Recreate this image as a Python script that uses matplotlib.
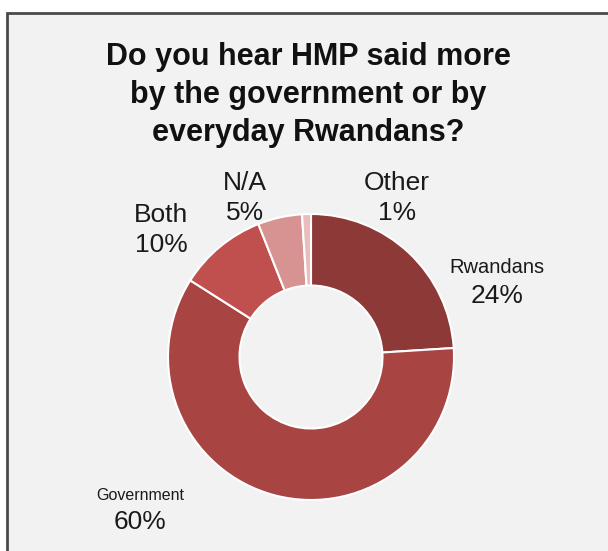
import matplotlib.pyplot as plt
from matplotlib.patches import Rectangle

# survey answers, clockwise from 12 o'clock
labels = ['Rwandans', 'Government', 'Both', 'N/A', 'Other']
shares = [24, 60, 10, 5, 1]
colors = ['#8C3937', '#A84543', '#C0504D', '#D69391', '#E8BDBC']

W, H = 608, 551
fig = plt.figure(figsize=(W / 100, H / 100), dpi=100)
fig.patch.set_facecolor('white')
ax = fig.add_axes([0, 0, 1, 1])
ax.set_xlim(0, W)
ax.set_ylim(0, H)
ax.axis('off')

# chart area frame (runs off the right and bottom edges)
ax.add_patch(Rectangle((7, -20), W + 20, H - 13 + 20, facecolor='#F2F2F2',
                       edgecolor='#4A4A4A', linewidth=2, zorder=0))

cx, cy, r = 311, H - 357, 143
ax.pie(shares, colors=colors, startangle=90, counterclock=False,
       center=(cx, cy), radius=r,
       wedgeprops=dict(width=r * 0.5, edgecolor='white', linewidth=1.5),
       frame=False)
ax.set_xlim(0, W)
ax.set_ylim(0, H)
ax.set_aspect('auto')

fig.text(308 / W, 1 - 95 / H,
         'Do you hear HMP said more\nby the government or by\neveryday Rwandans?',
         ha='center', va='center', fontsize=22, fontweight='bold',
         family='Liberation Sans', linespacing=1.33, color='#111111')

# label anchor points and name sizes
label_pos = {
    'Rwandans': (497, 281, 14.5),
    'Government': (140, 507, 11.5),
    'Both': (161, 230, 19),
    'N/A': (245, 198, 19),
    'Other': (397, 198, 19),
}
for name, share in zip(labels, shares):
    x, y, name_size = label_pos[name]
    if name_size == 19:
        ax.text(x, H - y, f'{name}\n{share}%', ha='center', va='center',
                fontsize=19, family='Liberation Sans', linespacing=1.3,
                color='#1A1A1A')
    else:
        ax.text(x, H - y + 4, name, ha='center', va='bottom',
                fontsize=name_size, family='Liberation Sans', color='#1A1A1A')
        ax.text(x, H - y - 3, f'{share}%', ha='center', va='top',
                fontsize=19, family='Liberation Sans', color='#1A1A1A')

fig.savefig('out.png', dpi=100)
